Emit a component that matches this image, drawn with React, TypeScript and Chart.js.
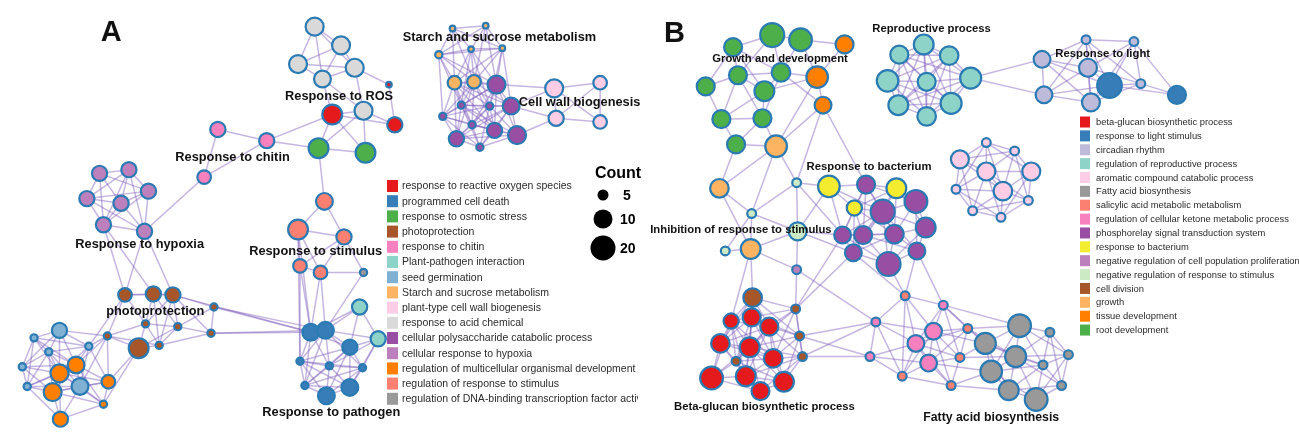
import { useEffect, useRef } from "react";
import { Chart, registerables } from "chart.js";

Chart.register(...registerables);

const W = 1299;
const H = 443;
const FONT = '"Liberation Sans", Arial, Helvetica, sans-serif';
const NODE_BORDER = "#2a7ab4";
const BORDER = 2.2;
const EDGE_COLOR = "rgba(128, 96, 190, 0.46)";

// ---------- Panel A nodes: [x, y, count] in layout coordinates ----------
const aRos = [[383, 75, 3], [325, 107, 15], [389, 118, 9]];
const aPcd = [[303, 340, 10], [318, 338, 10], [343, 356, 9], [292, 371, 4], [322, 376, 4], [356, 378, 4], [297, 397, 4], [343, 399, 10], [319, 408, 10]];
const aOsm = [[311, 143, 15], [359, 148, 15]];
const aPho = [[113, 300, 8], [142, 299, 9], [162, 300, 9], [204, 313, 4], [134, 331, 4], [167, 334, 4], [95, 344, 4], [127, 357, 15], [148, 354, 4], [201, 341, 4]];
const aChi = [[208, 123, 9], [258, 135, 9], [194, 174, 8]];
const aPpi = [[353, 313, 9], [372, 347, 9]];
const aSeed = [[46, 338, 9], [20, 346, 4], [35, 361, 4], [76, 355, 4], [8, 377, 4], [13, 398, 4], [67, 398, 10]];
const aStarch = [[448, 15, 3], [482, 12, 3], [467, 37, 3], [499, 36, 3], [434, 43, 4], [450, 73, 8], [470, 72, 8]];
const aCw = [[552, 79, 12], [599, 73, 8], [554, 111, 9], [599, 115, 8]];
const aAcid = [[307, 13, 12], [334, 33, 12], [290, 53, 12], [348, 57, 12], [315, 69, 10], [357, 103, 12]];
const aPoly = [[493, 75, 12], [457, 97, 4], [486, 98, 4], [508, 98, 10], [438, 109, 4], [468, 118, 4], [491, 124, 9], [452, 133, 9], [514, 129, 12], [476, 142, 4]];
const aHyp = [[87, 170, 9], [117, 166, 9], [137, 189, 9], [74, 197, 9], [109, 202, 9], [91, 225, 9], [133, 232, 9]];
const aMulti = [[63, 375, 10], [46, 384, 12], [39, 404, 12], [96, 393, 8], [91, 417, 4], [47, 433, 9]];
const aStim = [[317, 200, 10], [290, 230, 15], [337, 238, 9], [292, 269, 8], [313, 276, 8]];
const aDna = [[357, 276, 4]];

// ---------- Panel B nodes ----------
const bBeta = [[733, 328, 9], [754, 324, 12], [772, 334, 12], [722, 352, 13], [752, 356, 15], [776, 368, 13], [713, 389, 20], [748, 387, 15], [787, 393, 15], [763, 403, 12]];
const bLight = [[1120, 76, 23], [1189, 86, 12]];
const bCirc = [[1096, 27, 5], [1145, 29, 5], [1051, 48, 10], [1098, 57, 12], [1152, 74, 5], [1053, 86, 10], [1101, 94, 12]];
const bRep = [[930, 32, 15], [905, 43, 12], [956, 44, 13], [893, 71, 18], [933, 72, 12], [978, 68, 17], [904, 97, 15], [958, 95, 17], [933, 109, 13]];
const bArom = [[994, 137, 5], [1023, 146, 5], [967, 155, 12], [994, 168, 12], [1040, 168, 12], [963, 187, 5], [1011, 189, 13], [1037, 199, 5], [980, 210, 5], [1009, 217, 5]];
const bFatty = [[1028, 333, 20], [993, 352, 17], [1059, 340, 5], [1024, 366, 17], [1078, 364, 5], [1052, 375, 5], [999, 382, 18], [1017, 402, 15], [1071, 397, 5], [1045, 412, 20]];
const bSal = [[911, 301, 5], [975, 336, 5], [967, 367, 5], [908, 387, 5], [958, 397, 5]];
const bKet = [[950, 311, 5], [881, 329, 5], [875, 366, 5], [940, 339, 10], [922, 352, 10], [935, 373, 10]];
const bPhos = [[871, 182, 12], [922, 200, 20], [888, 211, 22], [847, 236, 10], [868, 236, 12], [900, 235, 13], [932, 228, 15], [858, 255, 10], [894, 267, 22], [923, 253, 10]];
const bBact = [[833, 184, 18], [859, 207, 9], [902, 186, 15]];
const bNcp = [[800, 273, 5]];
const bNrs = [[800, 180, 5], [754, 213, 5], [727, 253, 5], [801, 232, 12]];
const bDiv = [[755, 303, 13], [799, 315, 5], [803, 344, 5], [806, 366, 5], [738, 371, 5]];
const bGrowth = [[779, 141, 18], [721, 186, 13], [753, 251, 15]];
const bTissue = [[849, 32, 12], [821, 67, 18], [827, 97, 10]];
const bRoot = [[775, 22, 22], [804, 27, 20], [735, 35, 12], [740, 65, 12], [784, 62, 13], [767, 82, 15], [707, 77, 12], [723, 112, 12], [765, 111, 12], [738, 139, 12]];

// ---------- categories (legend order) ----------
const seriesA = [
  { key: "aRos", label: "response to reactive oxygen species", color: "#e41a1c", points: aRos },
  { key: "aPcd", label: "programmed cell death", color: "#377eb8", points: aPcd },
  { key: "aOsm", label: "response to osmotic stress", color: "#4daf4a", points: aOsm },
  { key: "aPho", label: "photoprotection", color: "#a65628", points: aPho },
  { key: "aChi", label: "response to chitin", color: "#f781bf", points: aChi },
  { key: "aPpi", label: "Plant-pathogen interaction", color: "#8dd3c7", points: aPpi },
  { key: "aSeed", label: "seed germination", color: "#80b1d3", points: aSeed },
  { key: "aStarch", label: "Starch and sucrose metabolism", color: "#fdb462", points: aStarch },
  { key: "aCw", label: "plant-type cell wall biogenesis", color: "#fccde5", points: aCw },
  { key: "aAcid", label: "response to acid chemical", color: "#d9d9d9", points: aAcid },
  { key: "aPoly", label: "cellular polysaccharide catabolic process", color: "#984ea3", points: aPoly },
  { key: "aHyp", label: "cellular response to hypoxia", color: "#bc80bd", points: aHyp },
  { key: "aMulti", label: "regulation of multicellular organismal development", color: "#ff7f00", points: aMulti },
  { key: "aStim", label: "regulation of response to stimulus", color: "#fb8072", points: aStim },
  { key: "aDna", label: "regulation of DNA-binding transcrioption factor activity", color: "#999999", points: aDna },
];

const seriesB = [
  { key: "bBeta", label: "beta-glucan biosynthetic process", color: "#e41a1c", points: bBeta },
  { key: "bLight", label: "response to light stimulus", color: "#377eb8", points: bLight },
  { key: "bCirc", label: "circadian rhythm", color: "#bebada", points: bCirc },
  { key: "bRep", label: "regulation of reproductive process", color: "#8dd3c7", points: bRep },
  { key: "bArom", label: "aromatic compound catabolic process", color: "#fccde5", points: bArom },
  { key: "bFatty", label: "Fatty acid biosynthesis", color: "#999999", points: bFatty },
  { key: "bSal", label: "salicylic acid metabolic metabolism", color: "#fb8072", points: bSal },
  { key: "bKet", label: "regulation of cellular ketone metabolic process", color: "#f781bf", points: bKet },
  { key: "bPhos", label: "phosphorelay signal transduction system", color: "#984ea3", points: bPhos },
  { key: "bBact", label: "response to bacterium", color: "#f4ec2e", points: bBact },
  { key: "bNcp", label: "negative regulation of cell population proliferation", color: "#bc80bd", points: bNcp },
  { key: "bNrs", label: "negative regulation of response to stimulus", color: "#ccebc5", points: bNrs },
  { key: "bDiv", label: "cell division", color: "#a65628", points: bDiv },
  { key: "bGrowth", label: "growth", color: "#fdb462", points: bGrowth },
  { key: "bTissue", label: "tissue development", color: "#ff7f00", points: bTissue },
  { key: "bRoot", label: "root development", color: "#4daf4a", points: bRoot },
];

// ---------- edges ----------
// clusters whose members are linked when close enough: [series keys, max link length]
const clusterLinks: [string[], number][] = [
  [["aAcid"], 70],
  [["aHyp"], 70],
  [["aStarch", "aPoly"], 68],
  [["aCw"], 60],
  [["aSeed", "aMulti"], 60],
  [["aPho"], 58],
  [["aStim", "aDna"], 55],
  [["aPcd", "aPpi"], 65],
  [["bRoot", "bTissue", "bGrowth"], 58],
  [["bRep"], 80],
  [["bCirc", "bLight"], 80],
  [["bArom"], 70],
  [["bPhos", "bBact"], 62],
  [["bBeta", "bDiv"], 65],
  [["bFatty"], 65],
  [["bSal", "bKet"], 62],
];

const crossEdges = [
  "aAcid6-aRos2", "aAcid5-aRos2", "aAcid4-aRos1", "aRos1-aRos3", "aAcid6-aRos3", "aRos2-aRos3",
  "aRos2-aOsm1", "aRos2-aOsm2", "aAcid6-aOsm2", "aAcid6-aOsm1", "aOsm1-aOsm2", "aRos2-aChi2",
  "aOsm1-aChi2", "aOsm1-aStim1", "aChi1-aChi2", "aChi1-aChi3", "aChi2-aChi3", "aChi3-aHyp7",
  "aHyp6-aPho1", "aHyp7-aPho3", "aHyp7-aPho1", "aHyp6-aPho2", "aPho7-aSeed4", "aPho7-aMulti4",
  "aPho7-aSeed1", "aPho8-aMulti4", "aPho7-aMulti1", "aPho1-aSeed4", "aPho7-aSeed7", "aPho8-aMulti5",
  "aPho4-aPcd1", "aPho10-aPcd1", "aPho4-aPcd2", "aPho10-aPcd2", "aPho3-aPcd1", "aStim4-aPcd1",
  "aStim4-aPcd4", "aStim5-aPcd2", "aStim2-aPcd1", "aDna1-aPcd2", "aStim5-aPcd1", "aStim2-aPcd4",
  "aCw1-aPoly1", "aCw1-aPoly4", "aCw3-aPoly4", "aCw3-aPoly9",
  "bRep6-bCirc3", "bRep6-bCirc6",
  "bGrowth1-bRoot10", "bGrowth1-bRoot9", "bGrowth1-bTissue3", "bGrowth1-bTissue2", "bGrowth1-bNrs1",
  "bGrowth1-bNrs2", "bGrowth1-bGrowth2", "bRoot10-bGrowth2", "bTissue3-bPhos1", "bTissue3-bNrs1",
  "bNrs1-bBact1", "bNrs1-bNrs4", "bNrs1-bPhos4", "bNrs1-bNrs2", "bNrs2-bNrs4", "bNrs2-bGrowth3",
  "bNrs2-bNrs3", "bNrs2-bGrowth2", "bGrowth2-bGrowth3", "bNrs3-bGrowth3", "bGrowth3-bDiv1",
  "bGrowth3-bBeta1", "bGrowth3-bNcp1", "bGrowth3-bNrs4", "bNrs4-bPhos4", "bNrs4-bNcp1", "bNrs4-bBact1",
  "bNrs4-bPhos8", "bNcp1-bKet2", "bNcp1-bDiv2", "bDiv2-bPhos4", "bDiv2-bPhos8", "bDiv3-bKet2",
  "bDiv4-bKet3", "bDiv4-bKet2", "bDiv3-bKet3", "bPhos9-bSal1", "bPhos8-bSal1", "bPhos10-bKet1",
  "bPhos10-bSal1", "bKet1-bFatty1", "bKet1-bFatty2", "bSal2-bFatty2", "bSal2-bFatty1", "bSal3-bFatty2",
  "bSal3-bFatty4", "bKet6-bFatty7", "bSal5-bFatty7", "bSal5-bFatty8", "bKet4-bFatty2", "bSal2-bFatty4",
  "bSal1-bKet4", "bSal1-bKet5", "bSal1-bSal4", "bSal1-bKet2", "bKet2-bSal4", "bKet3-bSal4",
];

// ---------- text ----------
const clusterLabels: [string, number, number, number][] = [
  ["Response to ROS", 332, 88, 12.8],
  ["Starch and sucrose metabolism", 496, 25, 12.8],
  ["Cell wall biogenesis", 578, 94, 12.8],
  ["Response to chitin", 223, 153, 12.8],
  ["Response to hypoxia", 128, 246, 12.8],
  ["photoprotection", 144, 318, 12.8],
  ["Response to stimulus", 308, 254, 12.8],
  ["Response to pathogen", 324, 426, 12.8],
  ["Reproductive process", 938, 15, 11.3],
  ["Growth and development", 783, 47, 11.3],
  ["Response to light", 1113, 42, 11.3],
  ["Response to bacterium", 874, 163, 11.3],
  ["Inhibition of response to stimulus", 743, 231, 11.3],
  ["Beta-glucan biosynthetic process", 767, 420, 11.3],
  ["Fatty acid biosynthesis", 999, 431, 12.3],
];
const panelLetters: [string, number, number][] = [["A", 99, 20], ["B", 675, 21]];
const countSizes = [5, 10, 20];

// count -> visible node radius (px)
function nodeRadius(count: number) {
  if (count <= 10) return 5.5 + (count - 5) * 0.8;
  return 9.5 + (count - 10) * 0.3;
}

type NodeInfo = { x: number; y: number; count: number; key: string };
const allSeries = [...seriesA, ...seriesB];
const nodeMap: Record<string, NodeInfo> = {};
allSeries.forEach((s) => {
  s.points.forEach(([x, y, c], i) => {
    nodeMap[s.key + (i + 1)] = { x, y, count: c, key: s.key };
  });
});

function buildEdges(): [string, string][] {
  const seen = new Set<string>();
  const out: [string, string][] = [];
  const add = (a: string, b: string) => {
    const k = a < b ? a + "|" + b : b + "|" + a;
    if (seen.has(k) || !nodeMap[a] || !nodeMap[b]) return;
    seen.add(k);
    out.push([a, b]);
  };
  clusterLinks.forEach(([keys, maxLen]) => {
    const ids: string[] = [];
    keys.forEach((k) => {
      const s = allSeries.find((q) => q.key === k);
      if (s) s.points.forEach((_, i) => ids.push(k + (i + 1)));
    });
    for (let i = 0; i < ids.length; i++)
      for (let j = i + 1; j < ids.length; j++) {
        const p = nodeMap[ids[i]], q = nodeMap[ids[j]];
        if (Math.hypot(p.x - q.x, p.y - q.y) <= maxLen) add(ids[i], ids[j]);
      }
  });
  crossEdges.forEach((e) => {
    const [a, b] = e.split("-");
    add(a, b);
  });
  return out;
}
const edges = buildEdges();

const edgePlugin = {
  id: "networkEdges",
  beforeDatasetsDraw(chart: any) {
    const { ctx } = chart;
    const xs = chart.scales.x, ys = chart.scales.y;
    ctx.save();
    ctx.strokeStyle = EDGE_COLOR;
    ctx.lineWidth = 1.5;
    edges.forEach(([a, b]) => {
      const p = nodeMap[a], q = nodeMap[b];
      ctx.beginPath();
      ctx.moveTo(xs.getPixelForValue(p.x), ys.getPixelForValue(p.y));
      ctx.lineTo(xs.getPixelForValue(q.x), ys.getPixelForValue(q.y));
      ctx.stroke();
    });
    ctx.restore();
  },
};

const textPlugin = {
  id: "networkText",
  afterDatasetsDraw(chart: any) {
    const { ctx } = chart;
    const xs = chart.scales.x, ys = chart.scales.y;
    const px = (v: number) => xs.getPixelForValue(v);
    const py = (v: number) => ys.getPixelForValue(v);
    ctx.save();
    ctx.textBaseline = "middle";

    // cluster labels
    ctx.fillStyle = "#111";
    ctx.textAlign = "center";
    clusterLabels.forEach(([t, x, y, s]) => {
      ctx.font = `bold ${s}px ${FONT}`;
      ctx.fillText(t, px(x), py(y));
    });
    panelLetters.forEach(([t, x, y]) => {
      ctx.font = `bold 29px ${FONT}`;
      ctx.fillText(t, px(x), py(y));
    });

    // legend A
    ctx.textAlign = "left";
    ctx.save();
    ctx.beginPath();
    ctx.rect(0, 0, 638, H);
    ctx.clip();
    seriesA.forEach((s, i) => {
      const cy = 186 + i * 15.2;
      ctx.fillStyle = s.color;
      ctx.fillRect(387, cy - 6, 11, 12);
      ctx.fillStyle = "#2a2a2a";
      ctx.font = `10.5px ${FONT}`;
      ctx.fillText(s.label, 402, cy + 0.5);
    });
    ctx.restore();

    // legend B
    seriesB.forEach((s, i) => {
      const cy = 122 + i * 13.87;
      ctx.fillStyle = s.color;
      ctx.fillRect(1080, cy - 5.5, 10, 11);
      ctx.fillStyle = "#2a2a2a";
      ctx.font = `9.4px ${FONT}`;
      ctx.fillText(s.label, 1096, cy + 0.5);
    });

    // count size legend
    ctx.fillStyle = "#000";
    ctx.textAlign = "center";
    ctx.font = `bold 16px ${FONT}`;
    ctx.fillText("Count", 618, 174);
    const ysz = [195, 219, 248];
    countSizes.forEach((c, i) => {
      ctx.beginPath();
      ctx.arc(603, ysz[i], nodeRadius(c), 0, Math.PI * 2);
      ctx.fill();
      ctx.textAlign = "left";
      ctx.font = `bold 14px ${FONT}`;
      ctx.fillText(String(c), c < 10 ? 623 : 620, ysz[i] + 1);
    });
    ctx.restore();
  },
};

export default function App() {
  const ref = useRef<HTMLCanvasElement>(null);
  useEffect(() => {
    if (!ref.current) return;
    const datasets = allSeries.map((s) => ({
      type: "bubble" as const,
      label: s.label,
      data: s.points.map(([x, y, c]) => ({ x, y, r: nodeRadius(c) - BORDER / 2 })),
      backgroundColor: s.color,
      borderColor: NODE_BORDER,
      borderWidth: BORDER,
      hoverRadius: 0,
      clip: false as any,
    }));
    const chart = new Chart(ref.current, {
      type: "bubble",
      data: { datasets },
      options: {
        animation: false,
        responsive: false,
        devicePixelRatio: 1,
        events: [],
        layout: { padding: 0 },
        scales: {
          x: { type: "linear", min: 0, max: W, display: false },
          y: { type: "linear", min: 0, max: H, reverse: true, display: false },
        },
        plugins: { legend: { display: false }, tooltip: { enabled: false } },
      },
      plugins: [edgePlugin, textPlugin],
    });
    return () => chart.destroy();
  }, []);
  return (
    <div style={{ position: "fixed", left: 0, top: 0, width: W, height: H, background: "#fff" }}>
      <canvas ref={ref} width={W} height={H} style={{ display: "block" }} />
    </div>
  );
}
